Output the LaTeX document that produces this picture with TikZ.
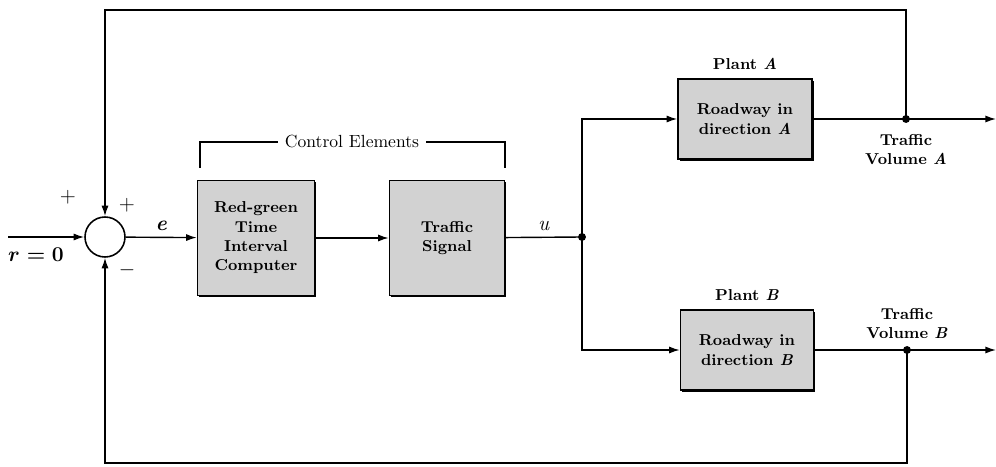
\documentclass[tikz,border=0pt]{standalone}
\usepackage{amsmath,amssymb,amsfonts}
\usepackage{xcolor}
\usepackage{tikz}
\usetikzlibrary{arrows.meta, positioning, calc, shadows}

\begin{document}
\begin{tikzpicture}[
    block/.style={draw, line width=0.9pt, fill=gray!35, align=center, font=\small\bfseries,
        drop shadow={shadow xshift=0.9pt, shadow yshift=-0.9pt, fill=black, opacity=1}},
    sumnode/.style={draw, circle, line width=0.9pt, minimum size=0.8cm, inner sep=0pt},
    dot/.style={circle, fill=black, inner sep=0pt, minimum size=4.5pt},
    arrow/.style={-{Latex[length=6pt, width=4pt]}, line width=0.8pt},
    wire/.style={line width=0.8pt},
    lbl/.style={font=\small\bfseries, align=center},
    sign/.style={font=\large},
]
\useasboundingbox (0,0) rectangle (19.92,9.32);

% loop
\node[sumnode] (sum) at (2.10,4.58) {};
\coordinate (rin) at (0.16,4.58);

% control elements
\node[block, minimum width=2.34cm, minimum height=2.3cm] (comp) at (5.12,4.56)
    {Red-green\\Time\\Interval\\Computer};
\node[block, minimum width=2.3cm, minimum height=2.3cm] (sig) at (8.94,4.56)
    {Traffic\\Signal};
\node[dot] (ju) at (11.64,4.58) {};

% plants
\node[block, minimum width=2.68cm, minimum height=1.6cm] (pa) at (14.9,6.94)
    {Roadway in\\direction \textit{A}};
\node[block, minimum width=2.66cm, minimum height=1.6cm] (pb) at (14.94,2.32)
    {Roadway in\\direction \textit{B}};
\node[lbl, above=0.05cm of pa] (pla) {Plant \textit{A}};
\node[lbl, above=0.05cm of pb] (plb) {Plant \textit{B}};

\node[dot] (da) at (18.12,6.94) {};
\node[dot] (db) at (18.14,2.32) {};
\coordinate (outa) at (19.92,6.94);
\coordinate (outb) at (19.92,2.32);
\coordinate (topa) at (18.12,9.12);
\coordinate (topsum) at (2.10,9.12);
\coordinate (botb) at (18.14,0.06);
\coordinate (botsum) at (2.10,0.06);

% signals
\draw[arrow] (rin) -- (sum);
\draw[arrow] (sum) -- node[above, font=\large\bfseries\itshape] (e) {e} (comp);
\draw[arrow] (comp) -- (sig);
\draw[wire] (sig) -- node[above, font=\large\itshape] (u) {u} (ju.center);
\draw[arrow] (ju.center) |- (pa.west);
\draw[arrow] (ju.center) |- (pb.west);
\draw[arrow] (pa) -- (outa);
\draw[arrow] (pb) -- (outb);
\draw[arrow] (da.center) -- (topa) -- (topsum) -- (sum);
\draw[arrow] (db.center) -- (botb) -- (botsum) -- (sum);

\node[lbl, below=0.1cm of da] (tva) {Traffic\\Volume \textit{A}};
\node[lbl, above=0.02cm of db] (tvb) {Traffic\\Volume \textit{B}};

% signs
\node[sign] (p1) at (1.36,5.38) {$+$};
\node[sign] (p2) at (2.54,5.22) {$+$};
\node[sign] (m1) at (2.54,3.92) {$-$};
\node[sign] (r) at (0.72,4.22) {$\boldsymbol{r=0}$};

% bracket
\draw[wire, line width=0.6pt] (4.0,5.96) -- (4.0,6.48) -- (10.1,6.48) -- (10.1,5.96);
\node[fill=white, inner xsep=4pt] (ce) at (7.04,6.48) {Control Elements};
\end{tikzpicture}
\end{document}
